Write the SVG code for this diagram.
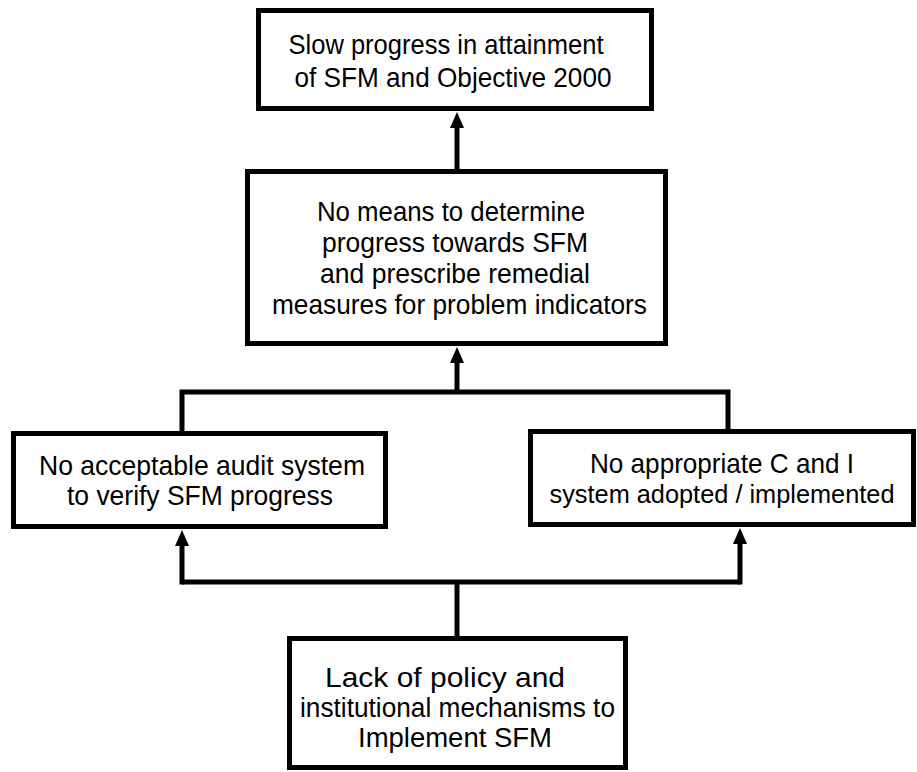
<svg xmlns="http://www.w3.org/2000/svg" width="917" height="772" viewBox="0 0 917 772">
<style>
.box{fill:#fff;stroke:#000;stroke-width:5}
.t{font-family:"Liberation Sans",Arial,sans-serif;font-size:27.5px;fill:#000;text-anchor:middle}
.c{fill:none;stroke:#000;stroke-width:5}
</style>
<defs>
<marker id="ah" markerUnits="userSpaceOnUse" markerWidth="16" markerHeight="14" refX="1" refY="7" orient="auto">
<path d="M0,0 L16,7 L0,14 z" fill="#000"/>
</marker>
</defs>
<rect width="917" height="772" fill="#fff"/>
<g id="connectors">
<line class="c" x1="457" y1="169" x2="457" y2="127" marker-end="url(#ah)"/>
<polyline class="c" points="182,431 182,392 728,392 728,429"/>
<line class="c" x1="457" y1="392" x2="457" y2="362" marker-end="url(#ah)"/>
<polyline class="c" points="182,582 740,582"/>
<line class="c" x1="182" y1="584.5" x2="182" y2="545" marker-end="url(#ah)"/>
<line class="c" x1="740" y1="584.5" x2="740" y2="543" marker-end="url(#ah)"/>
<line class="c" x1="457" y1="636" x2="457" y2="582"/>
</g>
<g id="n1">
<rect class="box" x="258.5" y="10.5" width="393" height="98"/>
<text class="t" x="446" y="54" textLength="315" lengthAdjust="spacingAndGlyphs">Slow progress in attainment</text>
<text class="t" x="453" y="87" textLength="317" lengthAdjust="spacingAndGlyphs">of SFM and Objective 2000</text>
</g>
<g id="n2">
<rect class="box" x="247.5" y="171.5" width="418" height="172"/>
<text class="t" x="451" y="221" textLength="268" lengthAdjust="spacingAndGlyphs">No means to determine</text>
<text class="t" x="455" y="252" textLength="266" lengthAdjust="spacingAndGlyphs">progress towards SFM</text>
<text class="t" x="455" y="283" textLength="270" lengthAdjust="spacingAndGlyphs">and prescribe remedial</text>
<text class="t" x="459.5" y="314" textLength="375" lengthAdjust="spacingAndGlyphs">measures for problem indicators</text>
</g>
<g id="n3">
<rect class="box" x="13.5" y="433.5" width="372" height="93"/>
<text class="t" x="202" y="475" textLength="326" lengthAdjust="spacingAndGlyphs">No acceptable audit system</text>
<text class="t" x="200" y="505" textLength="266" lengthAdjust="spacingAndGlyphs">to verify SFM progress</text>
</g>
<g id="n4">
<rect class="box" x="530.5" y="431.5" width="383" height="93"/>
<text class="t" x="722" y="473" textLength="264" lengthAdjust="spacingAndGlyphs">No appropriate C and I</text>
<text class="t" x="722" y="503" style="font-size:25px" textLength="345" lengthAdjust="spacingAndGlyphs">system adopted / implemented</text>
</g>
<g id="n5">
<rect class="box" x="289.5" y="638.5" width="336" height="129"/>
<text class="t" x="445" y="687" textLength="240" lengthAdjust="spacingAndGlyphs">Lack of policy and</text>
<text class="t" x="457.5" y="717" textLength="315" lengthAdjust="spacingAndGlyphs">institutional mechanisms to</text>
<text class="t" x="455" y="747" textLength="194" lengthAdjust="spacingAndGlyphs">Implement SFM</text>
</g>
</svg>
